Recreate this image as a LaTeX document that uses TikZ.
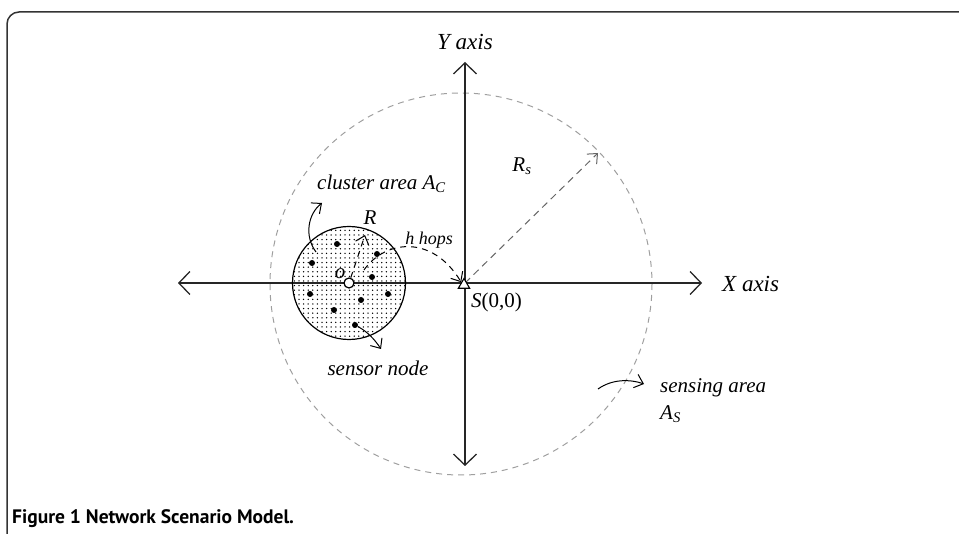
\documentclass[tikz,border=0pt]{standalone}
\usepackage{fontspec}
\setmainfont{Liberation Serif}
\newfontfamily\captionfont{PT Sans}
\usetikzlibrary{arrows.meta,patterns,shapes.geometric}

\pgfdeclarepatternformonly{clusterdots}{\pgfqpoint{-1pt}{-1pt}}{\pgfqpoint{1pt}{1pt}}{\pgfqpoint{4.6pt}{4.6pt}}{%
  \pgfpathcircle{\pgfqpoint{0pt}{0pt}}{0.75pt}\pgfusepath{fill}}

\begin{document}
\begin{tikzpicture}[x=1pt,y=-1pt,
  axisline/.style={line width=1.3pt,black!85,{Straight Barb[length=11pt,width=23pt]}-{Straight Barb[length=11pt,width=23pt]}},
  lab/.style={font=\fontsize{21}{24}\selectfont\itshape,inner sep=0pt},
  pointer/.style={line width=1pt,-{Straight Barb[length=8pt,width=14pt]}},
  sensor/.style={circle,fill=black,inner sep=0pt,minimum size=6pt}]
  \useasboundingbox (0,0) rectangle (959,534);
  \draw[line width=1.5pt,black!80,rounded corners=12pt] (7,545) -- (7,12) -- (970,12);

  % axes and sensing area
  \coordinate (xl) at (178,283);
  \coordinate (xr) at (702,283);
  \coordinate (yt) at (465,62);
  \coordinate (yb) at (465,466);
  \coordinate (O) at (465,283);
  \coordinate (A) at (461,284);
  \draw[gray!75,line width=1pt,dash pattern=on 6pt off 5pt] (A) circle[radius=191];
  \draw[axisline] (xl) -- (xr);
  \draw[axisline] (yt) -- (yb);
  \coordinate (rs) at (598,153);
  \draw[pointer,gray!80!black,dash pattern=on 7pt off 5pt] (O) -- (rs);

  % cluster
  \draw[line width=1.2pt,pattern=clusterdots] (349,283) circle[radius=56.5];
  \foreach \p [count=\i] in {(337,244),(377,254),(312,263),(372,277),(310,294),(388,294),(361,300),(334,310),(355,325)}
    \node[sensor] (n\i) at \p {};
  \node[circle,draw,fill=white,line width=1.2pt,inner sep=0pt,minimum size=10pt] (o) at (349,283) {};
  \coordinate (rt) at (365,235);
  \draw[pointer,dash pattern=on 6pt off 5pt] (o) -- (rt);

  \node[regular polygon,regular polygon sides=3,draw,fill=white,line width=1.1pt,inner sep=0pt,minimum size=13pt] (S) at (464,285) {};

  % labels
  \node[lab,font=\fontsize{23}{26}\selectfont\itshape] (ylab) at (465,42) {Y axis};
  \node[lab,font=\fontsize{23}{26}\selectfont\itshape,anchor=west] (xlab) at (722,284) {X axis};
  \node[lab,anchor=west] (calab) at (317,184) {cluster area A\textsubscript{C}};
  \node[lab] (Rlab) at (370,218) {R};
  \node[lab,font=\fontsize{18}{20}\selectfont\itshape] (hlab) at (429,240) {h hops};
  \node[lab] (olab) at (340,274) {o};
  \node[lab] (Rslab) at (522,166) {R\textsubscript{s}};
  \node[lab] (snlab) at (378,368) {sensor node};
  \node[lab,anchor=west] (salab) at (660,388) {sensing area};
  \node[lab,anchor=west] (aslab) at (660,414) {A\textsubscript{S}};
  \node[font=\fontsize{21}{24}\selectfont,anchor=west,inner sep=0pt] (Slab) at (471,302) {\itshape S\upshape(0,0)};

  % pointers
  \coordinate (ca) at (316,252);
  \coordinate (cb) at (322,203);
  \draw[pointer] (ca) .. controls (304,236) and (308,214) .. (cb);
  \coordinate (sb) at (381,349);
  \draw[pointer] (n9) .. controls (368,332) and (375,340) .. (sb);
  \coordinate (sa) at (598,389);
  \coordinate (sc) at (644,384);
  \draw[pointer] (sa) .. controls (612,379) and (630,379) .. (sc);
  \coordinate (ha) at (364,270);
  \draw[pointer,dash pattern=on 6pt off 5pt] (ha) .. controls (385,240) and (432,234) .. (S.north west);

  \node[font=\captionfont\bfseries\fontsize{19.5}{22}\selectfont,anchor=base west,inner sep=0pt] (cap) at (12,523) {Figure 1 Network Scenario Model.};
\end{tikzpicture}
\end{document}
